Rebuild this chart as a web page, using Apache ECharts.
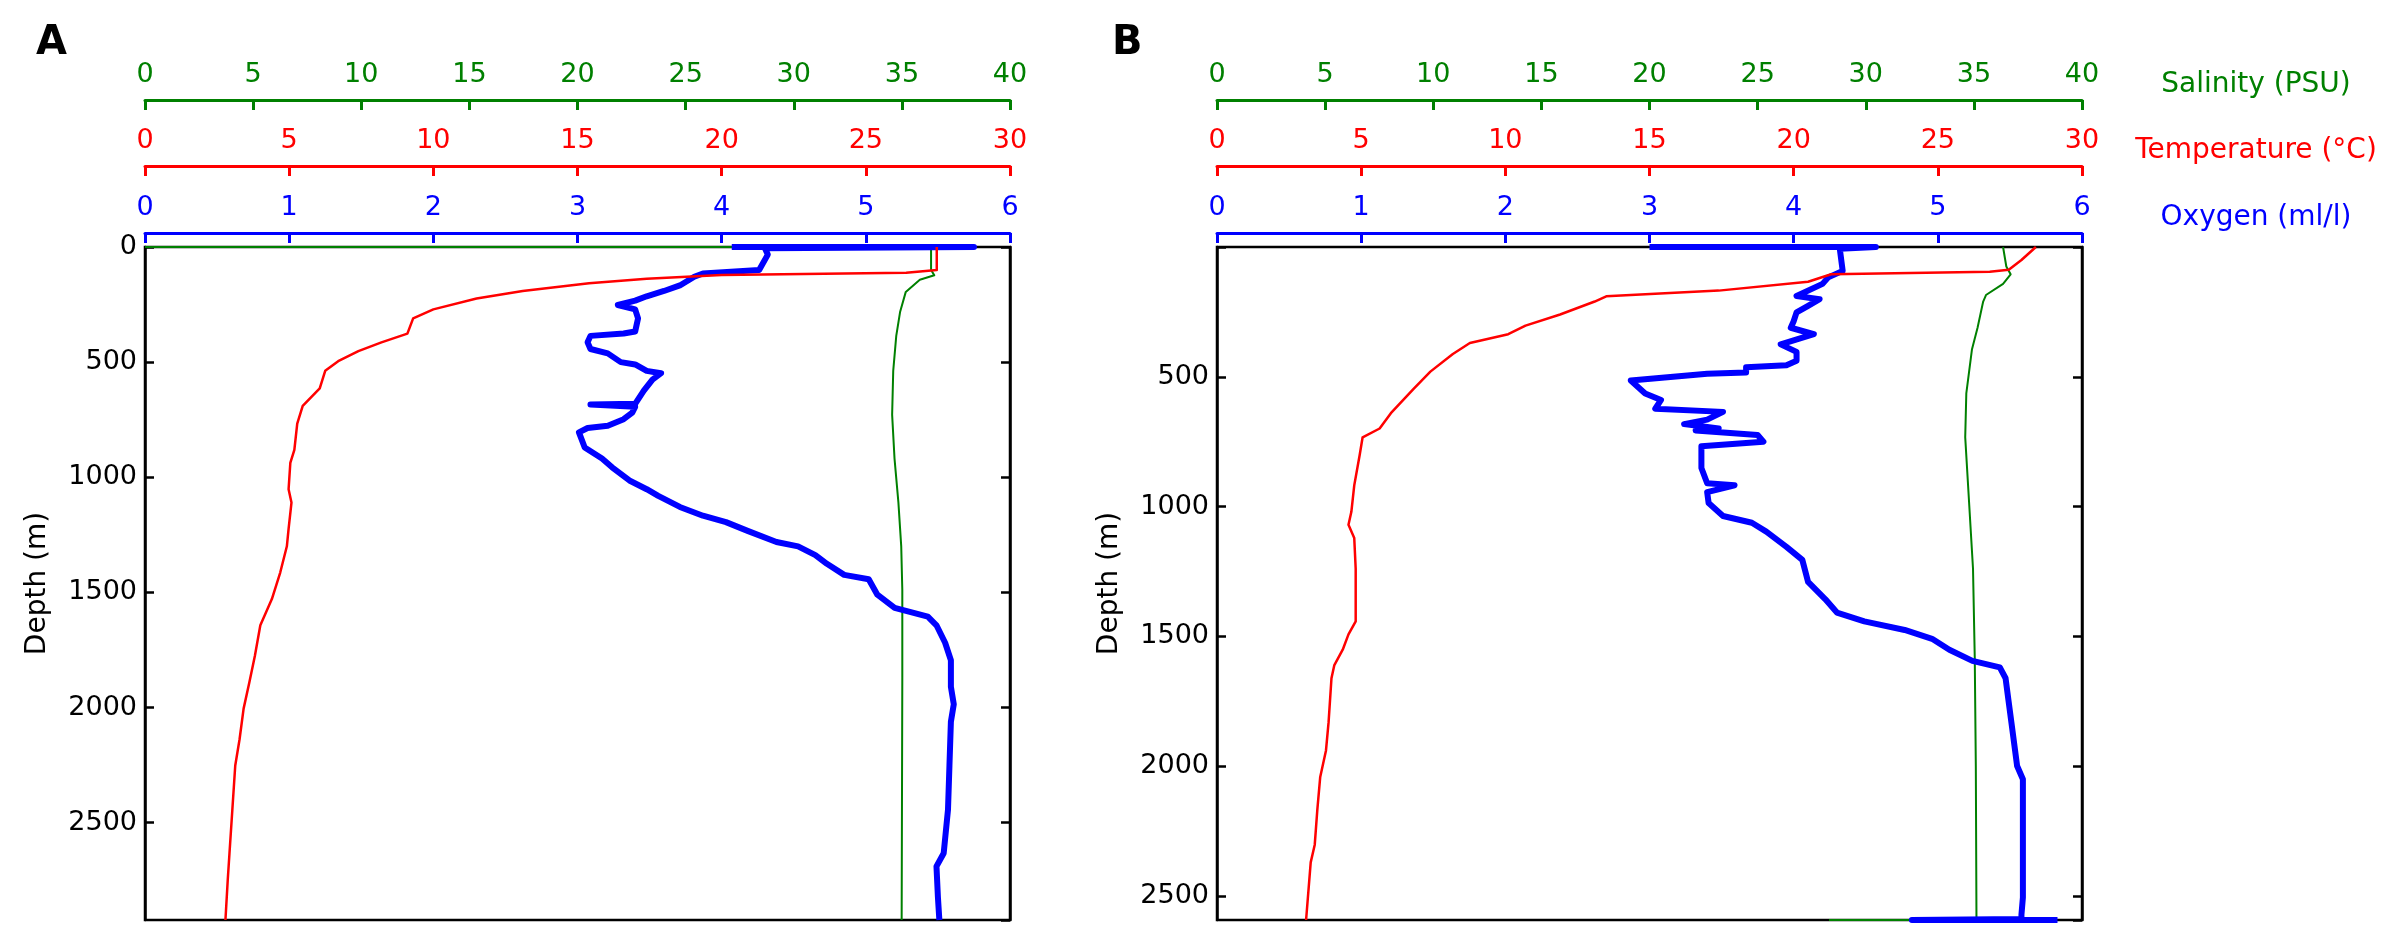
<!DOCTYPE html>
<html>
<head>
<meta charset="utf-8">
<title>CTD profiles</title>
<script src="https://cdn.jsdelivr.net/npm/echarts@6/dist/echarts.min.js"></script>
<style>
  html, body { margin: 0; padding: 0; background: #fff; }
  #main { width: 2383px; height: 927px; }
</style>
</head>
<body>
<div id="main"></div>
<script>
// profile data, each point is [value, depth in m]
// panel A
var tempA = [[27.46,0],[27.46,100],[26.4,112],[20.0,122],[18.96,128],[17.4,138],[15.4,157],[13.1,191],[11.5,224],[10.0,271],[9.3,310],[9.1,376],[8.2,414],[7.4,452],[6.7,496],[6.25,538],[6.06,614],[5.47,690],[5.28,767],[5.18,881],[5.04,938],[4.98,1052],[5.08,1110],[4.98,1224],[4.92,1300],[4.69,1414],[4.4,1529],[4.0,1643],[3.81,1776],[3.62,1890],[3.42,2005],[3.28,2138],[3.13,2252],[3.03,2443],[2.93,2633],[2.87,2748],[2.79,2923]];
var salA = [[0,0],[36.35,0],[36.35,100],[36.5,123],[35.83,142],[35.18,195],[34.92,281],[34.74,386],[34.6,538],[34.55,729],[34.66,919],[34.84,1110],[34.97,1300],[35.02,1490],[35.02,1871],[34.99,2923]];
var oxyA = [[4.07,0],[5.75,0],[4.3,5],[4.32,33],[4.26,100],[3.87,115],[3.81,129],[3.71,167],[3.6,191],[3.48,214],[3.4,233],[3.28,252],[3.4,271],[3.42,310],[3.4,367],[3.32,376],[3.09,386],[3.07,414],[3.09,443],[3.21,462],[3.3,500],[3.4,510],[3.48,538],[3.58,548],[3.52,576],[3.46,624],[3.4,681],[3.09,684],[3.4,694],[3.38,719],[3.32,748],[3.21,776],[3.07,786],[3.01,805],[3.05,871],[3.17,919],[3.24,957],[3.36,1014],[3.48,1052],[3.56,1081],[3.71,1129],[3.87,1167],[4.03,1195],[4.18,1233],[4.38,1281],[4.53,1300],[4.65,1338],[4.73,1376],[4.85,1424],[5.02,1443],[5.08,1510],[5.2,1567],[5.43,1605],[5.49,1643],[5.55,1719],[5.59,1795],[5.59,1910],[5.61,1986],[5.59,2062],[5.58,2252],[5.57,2443],[5.54,2633],[5.49,2690],[5.5,2824],[5.51,2923]];

// panel B
var tempB = [[28.4,0],[27.9,50],[27.46,88],[26.8,95],[21.3,105],[20.5,134],[17.4,168],[13.5,190],[13.1,210],[11.9,260],[10.7,303],[10.1,336],[8.77,370],[8.18,412],[7.4,480],[6.81,547],[6.03,640],[5.64,699],[5.05,733],[4.95,800],[4.76,918],[4.66,1020],[4.56,1070],[4.76,1121],[4.81,1239],[4.81,1442],[4.56,1492],[4.36,1551],[4.07,1610],[3.97,1661],[3.87,1830],[3.78,1939],[3.58,2041],[3.48,2167],[3.39,2302],[3.25,2370],[3.09,2592]];
var salB = [[36.35,0],[36.5,75],[36.7,105],[36.35,142],[35.56,185],[35.43,210],[35.17,311],[34.91,395],[34.65,564],[34.6,733],[34.78,986],[34.96,1239],[35.04,1577],[35.09,1999],[35.12,2585],[32.1,2592],[28.3,2592]];
var oxyB = [[3.0,0],[4.57,0],[4.32,7],[4.34,92],[4.24,117],[4.2,142],[4.02,189],[4.18,201],[4.1,227],[4.02,252],[4.0,286],[3.98,311],[4.14,336],[3.91,375],[4.02,404],[4.02,438],[3.95,455],[3.67,463],[3.67,483],[3.4,488],[2.87,514],[2.97,564],[3.08,589],[3.04,623],[3.51,635],[3.4,665],[3.24,682],[3.48,699],[3.32,707],[3.75,724],[3.79,750],[3.36,767],[3.36,851],[3.4,910],[3.59,918],[3.4,944],[3.41,986],[3.51,1036],[3.71,1062],[3.81,1096],[3.95,1155],[4.06,1205],[4.1,1290],[4.22,1357],[4.3,1408],[4.49,1442],[4.77,1475],[4.96,1509],[5.08,1551],[5.24,1594],[5.43,1619],[5.47,1661],[5.49,1746],[5.51,1830],[5.55,1999],[5.59,2050],[5.59,2505],[5.58,2572],[5.58,2588],[4.82,2592],[5.83,2592]];

// axis ranges and ticks
var salRange = [0, 40], salStep = 5;
var tempRange = [0, 30], tempStep = 5;
var oxyRange = [0, 6], oxyStep = 1;
var depthMaxA = 2923, depthMaxB = 2592, depthStep = 500;

var GREEN = '#008000', RED = '#ff0000', BLUE = '#0000ff';
var FONT = 'DejaVu Sans';

var myChart = echarts.init(document.getElementById('main'));

function topAxis(g, range, step, color, offset, name) {
    var ax = {
        gridIndex: g, type: 'value', position: 'top', offset: offset,
        min: range[0], max: range[1], interval: step,
        axisLine: { show: true, onZero: false, lineStyle: { color: color, width: 3 } },
        axisTick: { show: true, inside: true, length: 10, lineStyle: { color: color, width: 3 } },
        axisLabel: { color: color, fontSize: 27, fontFamily: FONT, margin: 12 },
        splitLine: { show: false }
    };
    if (name) {
        ax.name = name;
        ax.nameLocation = 'end';
        ax.nameGap = 174;
        ax.nameTextStyle = { color: color, fontSize: 28, fontFamily: FONT, align: 'center', verticalAlign: 'bottom', lineHeight: 30 };
    }
    return ax;
}

function depthAxis(g, max, hideZero) {
    return {
        gridIndex: g, type: 'value', inverse: true, position: 'left',
        min: 0, max: max, interval: depthStep,
        name: 'Depth (m)', nameLocation: 'middle', nameRotate: 90, nameGap: 93,
        nameTextStyle: { color: '#000', fontSize: 28, fontFamily: FONT },
        axisLine: { show: true, onZero: false, lineStyle: { color: '#000', width: 2.5 } },
        axisTick: { show: true, inside: true, length: 9, lineStyle: { color: '#000', width: 2.5 } },
        axisLabel: { color: '#000', fontSize: 27, fontFamily: FONT, margin: 8, showMaxLabel: false,
            formatter: function (v) { return (hideZero && v === 0) ? '' : String(v); } },
        splitLine: { show: false }
    };
}

function rightAxis(g, max) {
    return {
        gridIndex: g, type: 'value', inverse: true, position: 'right',
        min: 0, max: max, interval: depthStep,
        axisLine: { show: true, onZero: false, lineStyle: { color: '#000', width: 2.5 } },
        axisTick: { show: true, inside: true, length: 9, lineStyle: { color: '#000', width: 2.5 } },
        axisLabel: { show: false },
        splitLine: { show: false }
    };
}

function profile(data, xi, yi, color, width, z) {
    return {
        type: 'line', data: data, xAxisIndex: xi, yAxisIndex: yi,
        showSymbol: false, symbol: 'none', z: z, animation: false,
        lineStyle: { color: color, width: width, join: 'round' }
    };
}

var option = {
    backgroundColor: '#fff',
    animation: false,
    textStyle: { fontFamily: FONT },
    graphic: [
        { type: 'text', left: 36, top: 24, style: { text: 'A', font: 'bold 40px "DejaVu Sans"', fill: '#000' } },
        { type: 'text', left: 1112, top: 24, style: { text: 'B', font: 'bold 40px "DejaVu Sans"', fill: '#000' } }
    ],
    grid: [
        { left: 145, top: 247, width: 865, height: 673, show: true, borderColor: '#000', borderWidth: 2.5, backgroundColor: '#fff' },
        { left: 1217, top: 247, width: 865, height: 673, show: true, borderColor: '#000', borderWidth: 2.5, backgroundColor: '#fff' }
    ],
    xAxis: [
        topAxis(0, salRange, salStep, GREEN, 147),
        topAxis(0, tempRange, tempStep, RED, 81),
        topAxis(0, oxyRange, oxyStep, BLUE, 14),
        topAxis(1, salRange, salStep, GREEN, 147, 'Salinity (PSU)'),
        topAxis(1, tempRange, tempStep, RED, 81, 'Temperature (°C)'),
        topAxis(1, oxyRange, oxyStep, BLUE, 14, 'Oxygen (ml/l)')
    ],
    yAxis: [
        depthAxis(0, depthMaxA, false),
        rightAxis(0, depthMaxA),
        depthAxis(1, depthMaxB, true),
        rightAxis(1, depthMaxB)
    ],
    series: [
        profile(salA, 0, 0, GREEN, 2, 2),
        profile(oxyA, 2, 0, BLUE, 6, 3),
        profile(tempA, 1, 0, RED, 2.5, 4),
        profile(salB, 3, 2, GREEN, 2, 2),
        profile(oxyB, 5, 2, BLUE, 6, 3),
        profile(tempB, 4, 2, RED, 2.5, 4)
    ]
};

myChart.setOption(option);
</script>
</body>
</html>
